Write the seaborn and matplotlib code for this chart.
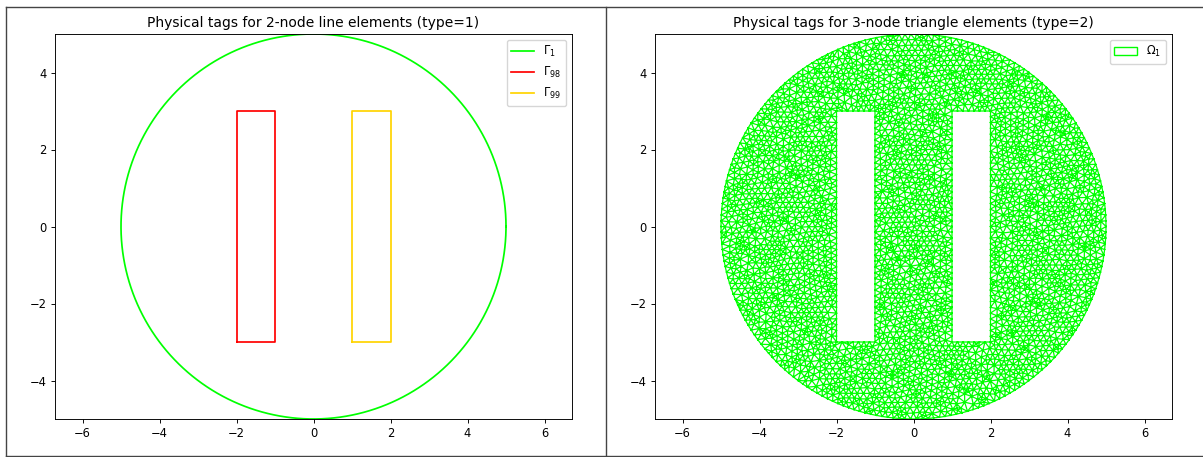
import numpy as np
import pandas as pd
import matplotlib
matplotlib.use("Agg")
import matplotlib.pyplot as plt
import matplotlib.tri as mtri
from matplotlib.patches import Patch
from matplotlib.lines import Line2D
import seaborn as sns

# Geometry of the model: a disc with two rectangular holes
radius = 5.0
hole_left_x = [-2.0, -1.0]
hole_right_x = [1.0, 2.0]
hole_y = [-3.0, 3.0]
mesh_size = 0.15

# Physical tags and their colours
line_tags = ["$\\Gamma_{1}$", "$\\Gamma_{98}$", "$\\Gamma_{99}$"]
line_colors = ["#00ff00", "#ff0000", "#ffd400"]
surface_tag = "$\\Omega_{1}$"
surface_color = "#00ff00"

titles = ["Physical tags for 2-node line elements (type=1)",
          "Physical tags for 3-node triangle elements (type=2)"]
x_ticks = [-6, -4, -2, 0, 2, 4, 6]
y_ticks = [-4, -2, 0, 2, 4]

scale = 0.83
plt.rcParams.update({
    "font.size": 10 * scale,
    "axes.titlesize": 12 * scale,
    "xtick.labelsize": 10 * scale,
    "ytick.labelsize": 10 * scale,
    "legend.fontsize": 10 * scale,
    "xtick.major.size": 3.5 * scale,
    "ytick.major.size": 3.5 * scale,
    "xtick.major.width": 0.8 * scale,
    "ytick.major.width": 0.8 * scale,
    "axes.linewidth": 0.8 * scale,
    "axes.titlepad": 6 * scale,
    "xtick.major.pad": 3.5 * scale,
    "ytick.major.pad": 3.5 * scale,
})


def rect_outline(xs, ys):
    px = [xs[0], xs[1], xs[1], xs[0], xs[0]]
    py = [ys[0], ys[0], ys[1], ys[1], ys[0]]
    return np.array(px), np.array(py)


def sample_polyline(px, py, h):
    pts = []
    for i in range(len(px) - 1):
        a = np.array([px[i], py[i]])
        b = np.array([px[i + 1], py[i + 1]])
        n = max(int(np.ceil(np.linalg.norm(b - a) / h)), 1)
        for k in range(n):
            pts.append(a + (b - a) * k / n)
    return np.array(pts)


def halton(n, base):
    seq = np.zeros(n)
    for i in range(n):
        f, r, k = 1.0, 0.0, i + 1
        while k > 0:
            f /= base
            r += f * (k % base)
            k //= base
        seq[i] = r
    return seq


def in_holes(p, pad):
    inside = np.zeros(len(p), bool)
    for hx in (hole_left_x, hole_right_x):
        inside |= ((p[:, 0] > hx[0] - pad) & (p[:, 0] < hx[1] + pad) &
                   (p[:, 1] > hole_y[0] - pad) & (p[:, 1] < hole_y[1] + pad))
    return inside


# Boundary curves
theta = np.linspace(0, 2 * np.pi, 400)
circ_x, circ_y = radius * np.cos(theta), radius * np.sin(theta)
r1x, r1y = rect_outline(hole_left_x, hole_y)
r2x, r2y = rect_outline(hole_right_x, hole_y)

frames = []
for tag, (bx, by) in zip(line_tags, [(circ_x, circ_y), (r1x, r1y), (r2x, r2y)]):
    frames.append(pd.DataFrame({"x": bx, "y": by, "tag": tag}))
boundary = pd.concat(frames, ignore_index=True)

# Mesh nodes: boundary nodes plus a smoothed quasi-uniform interior cloud
h = mesh_size
n_circ = int(np.ceil(2 * np.pi * radius / h))
t = np.arange(n_circ) * 2 * np.pi / n_circ
b_circ = np.c_[radius * np.cos(t), radius * np.sin(t)]
b_r1 = sample_polyline(r1x, r1y, h)
b_r2 = sample_polyline(r2x, r2y, h)
bnodes = np.vstack([b_circ, b_r1, b_r2])

area = np.pi * radius ** 2 - 2 * (hole_y[1] - hole_y[0])
n_target = int(area / (h * h * np.sqrt(3) / 2))
n_raw = int(n_target * 4 * radius ** 2 / area * 1.05)
cloud = np.c_[halton(n_raw, 2), halton(n_raw, 3)] * 2 * radius - radius
ok = (np.hypot(cloud[:, 0], cloud[:, 1]) < radius - 0.5 * h) & ~in_holes(cloud, 0.5 * h)
inner = cloud[ok]

nb = len(bnodes)
for _ in range(12):
    pts = np.vstack([bnodes, inner])
    tr = mtri.Triangulation(pts[:, 0], pts[:, 1])
    edges = tr.edges
    acc = np.zeros_like(pts)
    cnt = np.zeros(len(pts))
    np.add.at(acc, edges[:, 0], pts[edges[:, 1]])
    np.add.at(acc, edges[:, 1], pts[edges[:, 0]])
    np.add.at(cnt, edges[:, 0], 1)
    np.add.at(cnt, edges[:, 1], 1)
    new = acc[nb:] / cnt[nb:, None]
    good = (np.hypot(new[:, 0], new[:, 1]) < radius - 0.3 * h) & ~in_holes(new, 0.3 * h)
    inner = np.where(good[:, None], new, inner)

nodes = np.vstack([bnodes, inner])
tri = mtri.Triangulation(nodes[:, 0], nodes[:, 1])
cent = nodes[tri.triangles].mean(axis=1)
tri.set_mask(in_holes(cent, 0.0) | (np.hypot(cent[:, 0], cent[:, 1]) > radius))

# Figure
fig = plt.figure(figsize=(12.03, 4.57), dpi=100)
W, H = 1203, 457
ax1 = fig.add_axes([55 / W, 1 - 419 / H, 517 / W, 385 / H])
ax2 = fig.add_axes([655 / W, 1 - 419 / H, 517 / W, 385 / H])

sns.lineplot(data=boundary, x="x", y="y", hue="tag", units="tag",
             estimator=None, sort=False, palette=dict(zip(line_tags, line_colors)),
             linewidth=1.5 * scale, ax=ax1, legend=False)
handles = [Line2D([], [], color=c, lw=1.5 * scale) for c in line_colors]
ax1.legend(handles, line_tags, loc="upper right")

ax2.triplot(tri, color=surface_color, linewidth=0.9)
ax2.legend([Patch(facecolor="white", edgecolor=surface_color, lw=1.0)],
           [surface_tag], loc="upper right")

for ax, title in zip([ax1, ax2], titles):
    ax.set_xlim(-5, 5)
    ax.set_ylim(-5, 5)
    ax.set_aspect("equal", adjustable="datalim")
    ax.set_xticks(x_ticks)
    ax.set_yticks(y_ticks)
    ax.set_xlabel("")
    ax.set_ylabel("")
    ax.set_title(title)

# Panel frames
fc = "#444444"


def fig_line(xs, ys):
    fig.add_artist(Line2D([x / W for x in xs], [1 - y / H for y in ys],
                          color=fc, lw=1.0, transform=fig.transFigure))


fig_line([6, 6], [7, 456])
fig_line([6, W], [7, 7])
fig_line([6, W], [456, 456])
fig_line([606, 606], [7, 456])

fig.savefig("out.png", dpi=100)
